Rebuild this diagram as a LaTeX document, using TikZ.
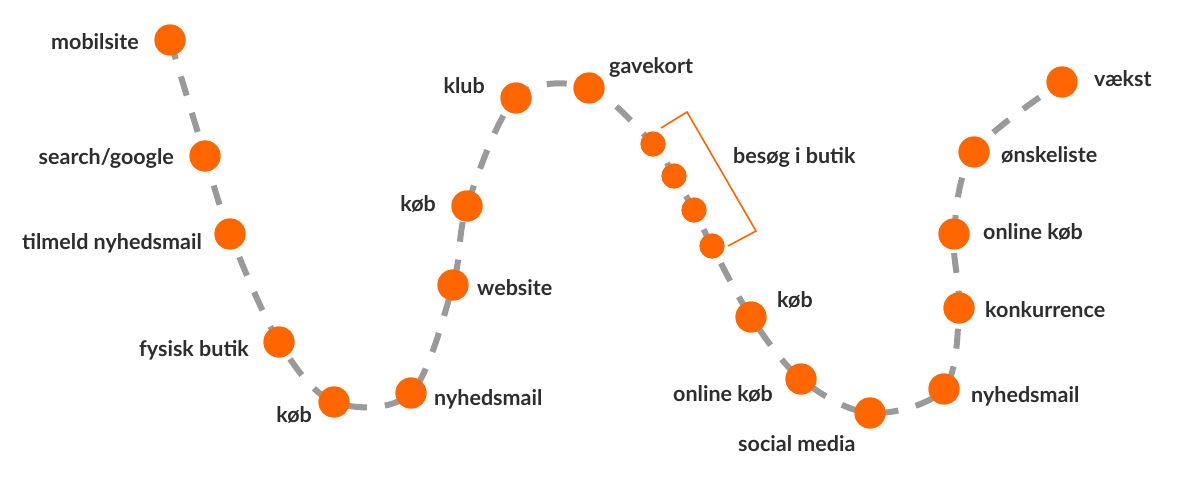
\documentclass[tikz,border=0pt]{standalone}
\usepackage{fontspec}
\setmainfont{Lato}
\definecolor{dotorange}{HTML}{FF6600}
\definecolor{txtgray}{HTML}{2E2E2E}
\definecolor{routegray}{HTML}{9A9A9A}
\begin{document}
\begin{tikzpicture}[x=1pt,y=-1pt,
  dot/.style={circle, fill=dotorange, minimum size=31pt, inner sep=0pt},
  sdot/.style={circle, fill=dotorange, minimum size=25pt, inner sep=0pt},
  lbl/.style={text=txtgray, font=\fontsize{21.5}{25}\selectfont\bfseries, inner sep=0pt},
  route/.style={draw=routegray, line width=6pt, dash pattern=on 20pt off 18pt},
  bracketline/.style={draw=dotorange, line width=1.6pt, line join=miter}
]
\fill[white] (0,0) rectangle (1200,480);
\useasboundingbox (0,0) rectangle (1200,480);
% dots
\node[dot] (d1) at (170,40) {};
\node[dot] (d2) at (205,156) {};
\node[dot] (d3) at (230,234) {};
\node[dot] (d4) at (279,342) {};
\node[dot] (d5) at (334,402) {};
\node[dot] (d6) at (411,393) {};
\node[dot] (d7) at (453,285) {};
\node[dot] (d8) at (467,206) {};
\node[dot] (d9) at (516,98) {};
\node[dot] (d10) at (589,88) {};
\node[sdot] (s1) at (653,144) {};
\node[sdot] (s2) at (674,176) {};
\node[sdot] (s3) at (694,210) {};
\node[sdot] (s4) at (712,246) {};
\node[dot] (d11) at (751,317) {};
\node[dot] (d12) at (801,379) {};
\node[dot] (d13) at (870,413) {};
\node[dot] (d14) at (944,389) {};
\node[dot] (d15) at (959,308) {};
\node[dot] (d16) at (954,234) {};
\node[dot] (d17) at (974,152) {};
\node[dot] (d18) at (1062,82) {};
% route
\draw[route] plot[smooth, tension=0.55] coordinates {(d1.center) (d2.center) (d3.center) (d4.center) (d5.center) (d6.center) (d7.center) (d8.center) (d9.center) (d10.center) (s1.center) (s2.center) (s3.center) (s4.center) (d11.center) (d12.center) (d13.center) (d14.center) (d15.center) (d16.center) (d17.center) (d18.center)};
% redraw dots on top of the route
\foreach \n in {d1,d2,d3,d4,d5,d6,d7,d8,d9,d10,d11,d12,d13,d14,d15,d16,d17,d18}{
  \fill[dotorange] (\n.center) circle (15.5pt);
}
\foreach \n in {s1,s2,s3,s4}{
  \fill[dotorange] (\n.center) circle (12.5pt);
}
% bracket
\coordinate (b1) at (661,128);
\coordinate (b2) at (687,112);
\coordinate (b3) at (756,231);
\coordinate (b4) at (728,246);
\draw[bracketline] (b1) -- (b2) -- (b3) -- (b4);
% labels
\node[lbl, anchor=base east] (l1) at (139,49) {mobilsite};
\node[lbl, anchor=base east] (l2) at (174,164) {search/google};
\node[lbl, anchor=base east] (l3) at (202,249) {tilmeld nyhedsmail};
\node[lbl, anchor=base east] (l4) at (249,356) {fysisk butik};
\node[lbl, anchor=base east] (l5) at (312,422) {køb};
\node[lbl, anchor=base west] (l6) at (434,405) {nyhedsmail};
\node[lbl, anchor=base west] (l7) at (477,295) {website};
\node[lbl, anchor=base east] (l8) at (436,211) {køb};
\node[lbl, anchor=base east] (l9) at (485,93) {klub};
\node[lbl, anchor=base west] (l10) at (609,73) {gavekort};
\node[lbl, anchor=base west] (l11) at (733,163) {besøg i butik};
\node[lbl, anchor=base west] (l12) at (777,307) {køb};
\node[lbl, anchor=base east] (l13) at (773,401) {online køb};
\node[lbl, anchor=base west] (l14) at (738,451) {social media};
\node[lbl, anchor=base west] (l15) at (971,402) {nyhedsmail};
\node[lbl, anchor=base west] (l16) at (985,317) {konkurrence};
\node[lbl, anchor=base west] (l17) at (983,239) {online køb};
\node[lbl, anchor=base west] (l18) at (1001,162) {ønskeliste};
\node[lbl, anchor=base west] (l19) at (1094,86) {vækst};
\end{tikzpicture}
\end{document}
